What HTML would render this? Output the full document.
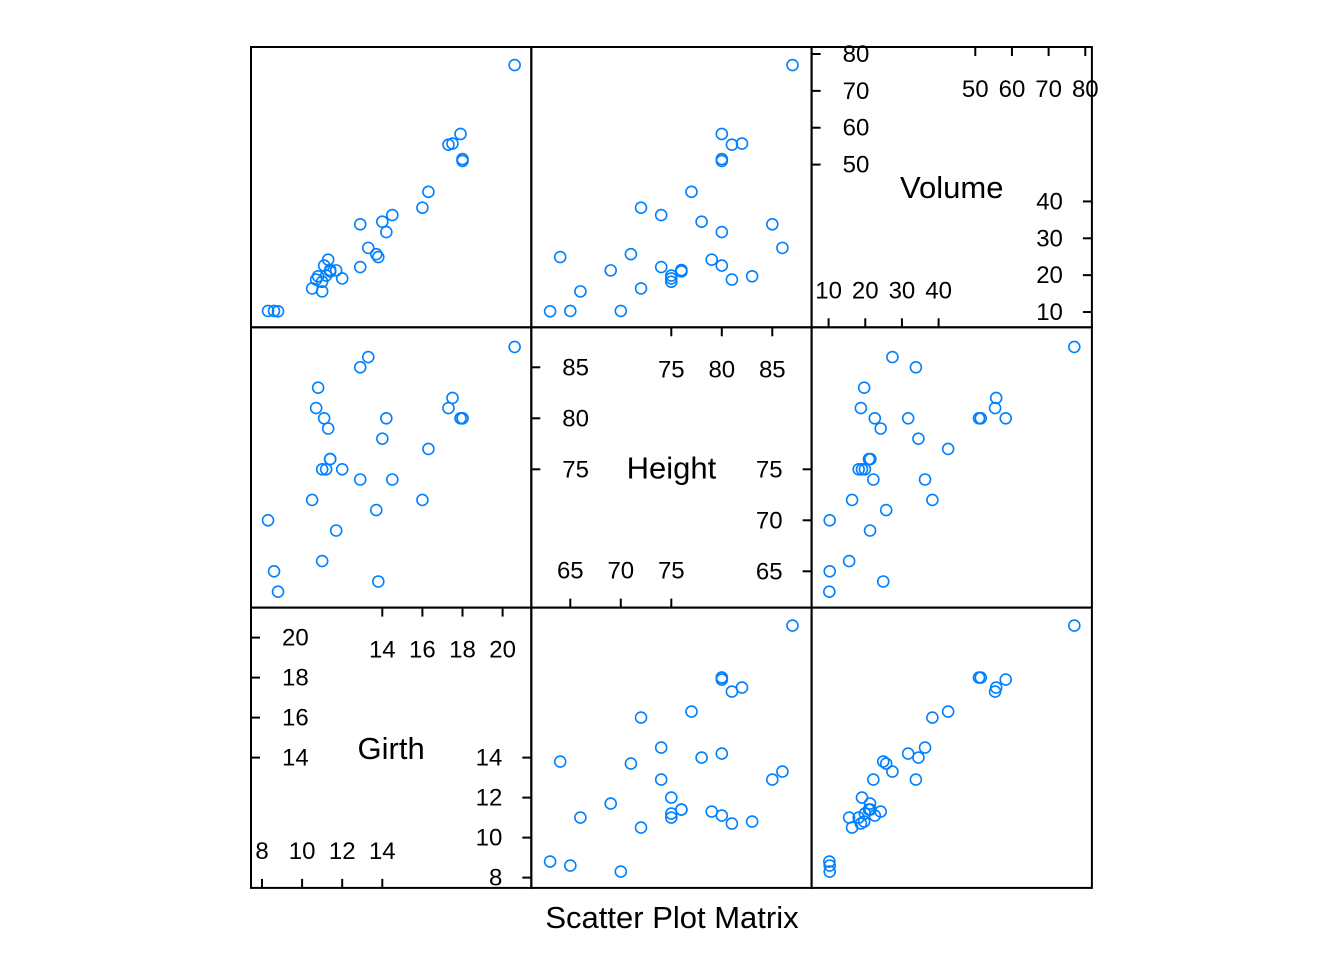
<!DOCTYPE html>
<html><head><meta charset="utf-8"><style>
body{margin:0;background:#fff;}
svg text{font-family:"Liberation Sans",Arial,sans-serif;fill:#000;}
</style></head><body>
<svg id="chart" width="1344" height="960">
<text x="672" y="928" font-size="31" text-anchor="middle">Scatter Plot Matrix</text>
</svg>
<script>
const girth=[8.3,8.6,8.8,10.5,10.7,10.8,11.0,11.0,11.1,11.2,11.3,11.4,11.4,11.7,12.0,12.9,12.9,13.3,13.7,13.8,14.0,14.2,14.5,16.0,16.3,17.3,17.5,17.9,18.0,18.0,20.6];
const height=[70,65,63,72,81,83,66,75,80,75,79,76,76,69,75,74,85,86,71,64,78,80,74,72,77,81,82,80,80,80,87];
const volume=[10.3,10.3,10.2,16.4,18.8,19.7,15.6,18.2,22.6,19.9,24.2,21.0,21.4,21.3,19.1,22.2,33.8,27.4,25.7,24.9,34.5,31.7,36.3,38.3,42.6,55.4,55.7,58.3,51.5,51.0,77.0];
const varNames=["Girth","Height","Volume"];
const girthTicksLow=[8,10,12,14], girthTicksHigh=[14,16,18,20];
const heightTicksLow=[65,70,75], heightTicksHigh=[75,80,85];
const volumeTicksLow=[10,20,30,40], volumeTicksHigh=[50,60,70,80];

const NS="http://www.w3.org/2000/svg";
const svg=document.getElementById('chart');
const data=[girth,height,volume];
const lowT=[girthTicksLow,heightTicksLow,volumeTicksLow];
const highT=[girthTicksHigh,heightTicksHigh,volumeTicksHigh];
const L=251,T=47,S=280.3;
function sx(k,v){return [11+(v-8)*20.05, 39+(v-65)*10.1, 17+(v-10)*3.667][k];}
function sy(k,v){return [30+(20-v)*20, 40+(85-v)*10.2, 7+(80-v)*3.686][k];}
function mk(tag,attrs){const e=document.createElementNS(NS,tag);for(const k in attrs)e.setAttribute(k,attrs[k]);svg.appendChild(e);return e;}
for(let r=0;r<3;r++){
  const yv=2-r;
  for(let c=0;c<3;c++){
    const xv=c, px=L+c*S, py=T+r*S;
    const box=mk('rect',{x:px,y:py,width:S,height:S,fill:'none',stroke:'#000','stroke-width':2});
    
    
    if(xv===yv){
      const lab=mk('text',{x:px+S/2,y:py+S/2+11,'font-size':31,'text-anchor':'middle'});
      lab.textContent=varNames[xv];
      
      
      const lo=lowT[xv], hi=highT[xv];
      hi.forEach(v=>{const y=py+sy(xv,v);
        const t=mk('line',{x1:px,x2:px+9,y1:y,y2:y,stroke:'#000','stroke-width':2});
        
        const tx=mk('text',{x:px+31,y:y+8,'font-size':24});tx.textContent=v;
        });
      lo.forEach(v=>{const y=py+sy(xv,v);
        const t=mk('line',{x1:px+S,x2:px+S-9,y1:y,y2:y,stroke:'#000','stroke-width':2});
        
        const tx=mk('text',{x:px+S-29,y:y+8,'font-size':24,'text-anchor':'end'});tx.textContent=v;
        });
      hi.forEach(v=>{const x=px+sx(xv,v);
        const t=mk('line',{x1:x,x2:x,y1:py,y2:py+9,stroke:'#000','stroke-width':2});
        
        const tx=mk('text',{x:x,y:py+50,'font-size':24,'text-anchor':'middle'});tx.textContent=v;
        });
      lo.forEach(v=>{const x=px+sx(xv,v);
        const t=mk('line',{x1:x,x2:x,y1:py+S,y2:py+S-9,stroke:'#000','stroke-width':2});
        
        const tx=mk('text',{x:x,y:py+S-29,'font-size':24,'text-anchor':'middle'});tx.textContent=v;
        });
    } else {
      for(let i=0;i<girth.length;i++){
        const p=mk('circle',{cx:px+sx(xv,data[xv][i]),cy:py+sy(yv,data[yv][i]),r:5.5,fill:'none',stroke:'#0080ff','stroke-width':1.6});
        
        
      }
    }
  }
}
</script>
</body></html>
